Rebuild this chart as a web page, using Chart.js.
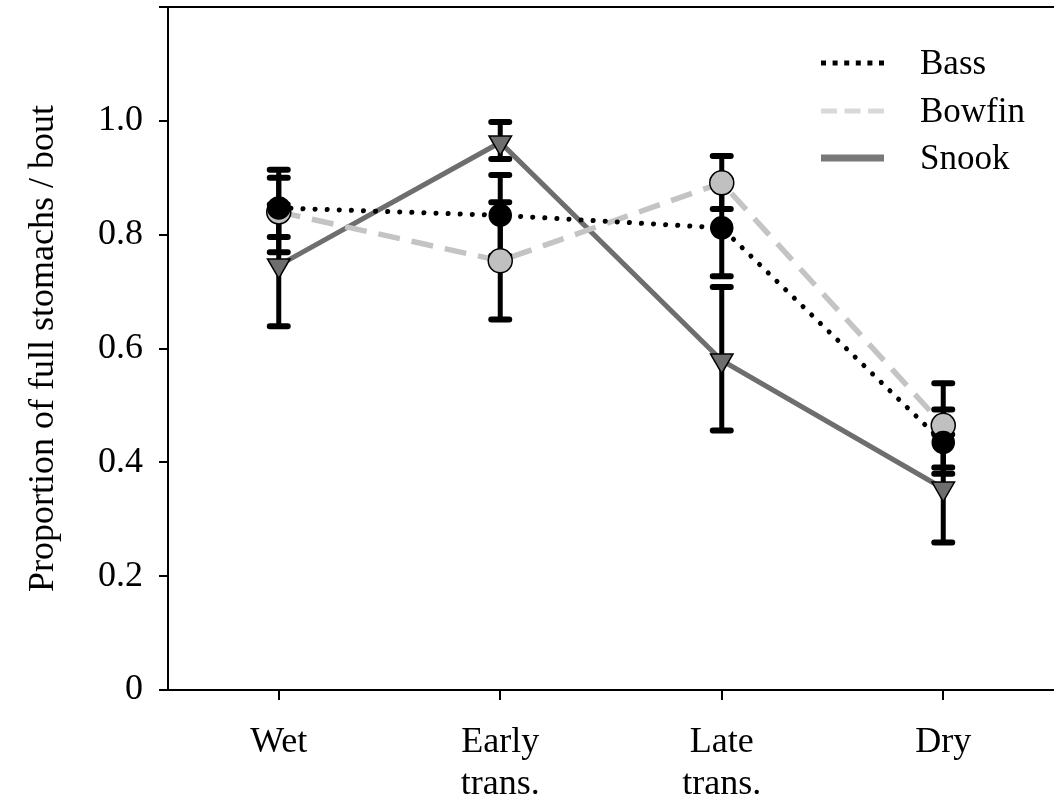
<!DOCTYPE html>
<html>
<head>
<meta charset="utf-8">
<script src="https://cdn.jsdelivr.net/npm/chart.js@4/dist/chart.umd.min.js"></script>
<style>
  body { margin: 0; background: #fff; }
  #wrap { width: 1054px; height: 804px; }
</style>
</head>
<body>
<div id="wrap"><canvas id="chart"></canvas></div>
<script>
// categories along the x axis
const seasons = ['Wet', ['Early', 'trans.'], ['Late', 'trans.'], 'Dry'];

// proportion of full stomachs, with error bar ends
const bass = [0.847, 0.834, 0.812, 0.435];
const bassHigh = [0.914, 0.905, 0.897, 0.493];
const bassLow = [0.796, 0.763, 0.727, 0.380];

const bowfin = [0.840, 0.754, 0.891, 0.465];
const bowfinHigh = [0.900, 0.857, 0.938, 0.539];
const bowfinLow = [0.769, 0.651, 0.845, 0.391];

const snook = [0.746, 0.962, 0.579, 0.354];
const snookHigh = [0.853, 0.998, 0.708, 0.449];
const snookLow = [0.639, 0.933, 0.456, 0.259];

const yTicks = [0, 0.2, 0.4, 0.6, 0.8, 1.0, 1.2];
const yTickLabels = ['0', '0.2', '0.4', '0.6', '0.8', '1.0', ''];

const serif = '"Liberation Serif", "Times New Roman", serif';

const series = [
    { label: 'Bass', data: bass, high: bassHigh, low: bassLow,
      line: '#000000', width: 5, dash: [0.1, 12], cap: 'round',
      marker: 'circle', fill: '#000000', radius: 11,
      legendDash: [5, 6.6], legendColor: '#000000', legendWidth: 5 },
    { label: 'Bowfin', data: bowfin, high: bowfinHigh, low: bowfinLow,
      line: '#c4c4c4', width: 5.5, dash: [22, 12], cap: 'butt',
      marker: 'circle', fill: '#c0c0c0', radius: 12,
      legendDash: [16, 7.5], legendColor: '#d9d9d9', legendWidth: 5 },
    { label: 'Snook', data: snook, high: snookHigh, low: snookLow,
      line: '#6e6e6e', width: 5, dash: [], cap: 'butt',
      marker: 'triangle', fill: '#6e6e6e', radius: 13,
      legendDash: [], legendColor: '#787878', legendWidth: 7 }
];

const lineSets = series.map(s => ({
    label: s.label,
    data: s.data,
    borderColor: s.line,
    borderWidth: s.width,
    borderDash: s.dash,
    borderCapStyle: s.cap,
    pointRadius: 0,
    tension: 0,
    fill: false,
    order: 2
}));

const pointSets = series.map(s => ({
    label: s.label + ' points',
    data: s.data,
    showLine: false,
    pointStyle: s.marker,
    rotation: s.marker === 'triangle' ? 180 : 0,
    pointRadius: s.radius,
    pointBackgroundColor: s.fill,
    pointBorderColor: '#000000',
    pointBorderWidth: 1.5,
    order: 1
}));

// error bars sit on top of the lines but under the markers
const errorBars = {
    id: 'errorBars',
    afterDatasetDraw(chart, args) {
        if (args.index !== 0) return;
        const { ctx, scales: { x, y } } = chart;
        ctx.save();
        ctx.strokeStyle = '#000000';
        ctx.lineCap = 'round';
        series.forEach(s => {
            s.data.forEach((v, i) => {
                const px = x.getPixelForValue(i);
                const top = y.getPixelForValue(s.high[i]);
                const bot = y.getPixelForValue(s.low[i]);
                ctx.lineWidth = 5;
                ctx.beginPath();
                ctx.moveTo(px, top);
                ctx.lineTo(px, bot);
                ctx.stroke();
                ctx.lineWidth = 6;
                ctx.beginPath();
                ctx.moveTo(px - 9, top);
                ctx.lineTo(px + 9, top);
                ctx.moveTo(px - 9, bot);
                ctx.lineTo(px + 9, bot);
                ctx.stroke();
            });
        });
        ctx.restore();
    }
};

// top frame line across the plot
const topFrame = {
    id: 'topFrame',
    afterDraw(chart) {
        const { ctx, chartArea } = chart;
        ctx.save();
        ctx.strokeStyle = '#000000';
        ctx.lineWidth = 2;
        ctx.beginPath();
        ctx.moveTo(chartArea.left, chartArea.top);
        ctx.lineTo(chart.width, chartArea.top);
        ctx.stroke();
        ctx.restore();
    }
};

// legend drawn inside the plot, top right
const lineLegend = {
    id: 'lineLegend',
    afterDraw(chart) {
        const ctx = chart.ctx;
        const rowY = [63, 111, 158];
        ctx.save();
        series.forEach((s, i) => {
            ctx.strokeStyle = s.legendColor;
            ctx.lineWidth = s.legendWidth;
            ctx.lineCap = 'butt';
            ctx.setLineDash(s.legendDash);
            ctx.beginPath();
            ctx.moveTo(821, rowY[i]);
            ctx.lineTo(884, rowY[i]);
            ctx.stroke();
            ctx.setLineDash([]);
            ctx.fillStyle = '#000000';
            ctx.font = '35px ' + serif;
            ctx.textBaseline = 'middle';
            ctx.fillText(s.label, 920, rowY[i] + 2);
        });
        ctx.restore();
    }
};

new Chart(document.getElementById('chart'), {
    type: 'line',
    data: {
        labels: seasons,
        datasets: [...lineSets, ...pointSets]
    },
    options: {
        responsive: true,
        maintainAspectRatio: false,
        animation: false,
        events: [],
        layout: {
            autoPadding: false,
            padding: { top: 7, right: -2, bottom: 0, left: 0 }
        },
        plugins: {
            legend: { display: false },
            tooltip: { enabled: false }
        },
        scales: {
            x: {
                type: 'category',
                position: 'bottom',
                offset: true,
                grid: {
                    offset: false,
                    drawOnChartArea: false,
                    drawTicks: true,
                    tickLength: 10,
                    color: '#000000',
                    lineWidth: 2
                },
                border: { display: true, color: '#000000', width: 2 },
                ticks: {
                    color: '#000000',
                    font: { family: serif, size: 36, lineHeight: 1.15 },
                    padding: 22,
                    maxRotation: 0,
                    autoSkip: false
                },
                afterFit(scale) { scale.height = 114; }
            },
            y: {
                min: 0,
                max: 1.2,
                afterBuildTicks(scale) {
                    scale.ticks = yTicks.map(v => ({ value: v }));
                },
                grid: {
                    drawOnChartArea: false,
                    drawTicks: true,
                    tickLength: 9,
                    color: '#000000',
                    lineWidth: 2
                },
                border: { display: true, color: '#000000', width: 2 },
                ticks: {
                    color: '#000000',
                    font: { family: serif, size: 36 },
                    padding: 16,
                    callback: (value, index) => yTickLabels[index]
                },
                title: {
                    display: true,
                    text: 'Proportion of full stomachs / bout',
                    color: '#000000',
                    font: { family: serif, size: 36, lineHeight: 1.2 },
                    padding: { top: 22, bottom: 0 }
                },
                afterFit(scale) {
                    scale.width = 168;
                    scale.paddingTop = 0;
                }
            }
        }
    },
    plugins: [errorBars, topFrame, lineLegend]
});
</script>
</body>
</html>
